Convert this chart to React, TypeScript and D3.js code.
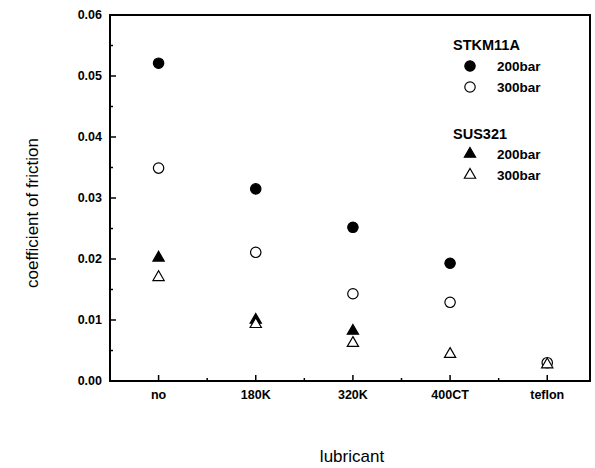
import React, { useEffect, useRef } from 'react';
import * as d3 from 'd3';

const lubricants = ['no', '180K', '320K', '400CT', 'teflon'];
const stkm200 = [0.0521, 0.0315, 0.0252, 0.0193, null];
const stkm300 = [0.0349, 0.0211, 0.0143, 0.0129, 0.0030];
const sus200 = [0.0202, 0.0100, 0.0082, null, null];
const sus300 = [0.0170, 0.0093, 0.0062, 0.0044, 0.0027];
const yTicks = [0, 0.01, 0.02, 0.03, 0.04, 0.05, 0.06];

const App = () => {
  const ref = useRef<SVGSVGElement | null>(null);

  useEffect(() => {
    if (!ref.current) return;
    const left = 110, right = 590, top = 15, bottom = 381;

    const svg = d3.select(ref.current);
    svg.selectAll('*').remove();

    const x = d3.scaleLinear().domain([0.5, 5.44]).range([left, right]);
    const y = d3.scaleLinear().domain([0, 0.06]).range([bottom, top]);

    const font = 'Liberation Sans, Arial, sans-serif';

    // frame
    svg.append('rect')
      .attr('x', left).attr('y', top)
      .attr('width', right - left).attr('height', bottom - top)
      .attr('fill', 'none').attr('stroke', '#000').attr('stroke-width', 2);

    // y ticks (inward)
    const yMinor = d3.range(0.005, 0.06, 0.01);
    svg.selectAll('line.ymaj').data(yTicks).enter().append('line')
      .attr('x1', left).attr('x2', left + 6)
      .attr('y1', d => y(d)).attr('y2', d => y(d))
      .attr('stroke', '#000').attr('stroke-width', 1.5);
    svg.selectAll('line.ymin').data(yMinor).enter().append('line')
      .attr('x1', left).attr('x2', left + 3)
      .attr('y1', d => y(d)).attr('y2', d => y(d))
      .attr('stroke', '#000').attr('stroke-width', 1.5);
    svg.selectAll('text.ylab').data(yTicks).enter().append('text')
      .attr('x', left - 8).attr('y', d => y(d))
      .attr('dy', '0.35em')
      .attr('text-anchor', 'end')
      .style('font-family', font).style('font-weight', 'bold').style('font-size', '12.5px')
      .text(d => d3.format('.2f')(d));

    // x ticks
    const xMajor = lubricants.map((_, i) => i + 1);
    const xMinor = d3.range(1.5, 5, 1);
    svg.selectAll('line.xmaj').data(xMajor).enter().append('line')
      .attr('x1', d => x(d)).attr('x2', d => x(d))
      .attr('y1', bottom).attr('y2', bottom - 6)
      .attr('stroke', '#000').attr('stroke-width', 1.5);
    svg.selectAll('line.xmin').data(xMinor).enter().append('line')
      .attr('x1', d => x(d)).attr('x2', d => x(d))
      .attr('y1', bottom).attr('y2', bottom - 3)
      .attr('stroke', '#000').attr('stroke-width', 1.5);
    svg.selectAll('text.xlab').data(lubricants).enter().append('text')
      .attr('x', (_, i) => x(i + 1)).attr('y', bottom + 18)
      .attr('text-anchor', 'middle')
      .style('font-family', font).style('font-weight', 'bold').style('font-size', '12.5px')
      .text(d => d);

    // axis titles
    svg.append('text')
      .attr('transform', `translate(38, ${(top + bottom) / 2 + 15}) rotate(-90)`)
      .attr('text-anchor', 'middle')
      .style('font-family', font).style('font-size', '17px')
      .text('coefficient of friction');
    svg.append('text')
      .attr('x', 352).attr('y', 462)
      .attr('text-anchor', 'middle')
      .style('font-family', font).style('font-size', '17px')
      .text('lubricant');

    const circle = d3.symbol().type(d3.symbolCircle).size(85);
    const tri = d3.symbol().type(d3.symbolTriangle).size(55);

    const series = [
      { values: stkm200, path: circle(), fill: '#000' },
      { values: stkm300, path: circle(), fill: '#fff' },
      { values: sus200, path: tri(), fill: '#000' },
      { values: sus300, path: tri(), fill: '#fff' },
    ];

    series.forEach(s => {
      svg.append('g').selectAll('path')
        .data(s.values.map((v, i) => ({ v, i })).filter(d => d.v != null))
        .enter().append('path')
        .attr('d', s.path)
        .attr('transform', d => `translate(${x(d.i + 1)}, ${y(d.v as number)})`)
        .attr('fill', s.fill)
        .attr('stroke', '#000')
        .attr('stroke-width', 1.2);
    });

    // legend
    const lg = svg.append('g');
    const legendRows = [
      { head: 'STKM11A', y: 45 },
      { label: '200bar', y: 66, path: circle(), fill: '#000' },
      { label: '300bar', y: 87, path: circle(), fill: '#fff' },
      { head: 'SUS321', y: 134 },
      { label: '200bar', y: 154, path: tri(), fill: '#000' },
      { label: '300bar', y: 175, path: tri(), fill: '#fff' },
    ];
    legendRows.forEach(r => {
      if (r.head) {
        lg.append('text')
          .attr('x', 453).attr('y', r.y).attr('dy', '0.35em')
          .style('font-family', font).style('font-weight', 'bold').style('font-size', '14.5px')
          .text(r.head);
      } else {
        lg.append('path')
          .attr('d', r.path as string)
          .attr('transform', `translate(470, ${r.y})`)
          .attr('fill', r.fill as string)
          .attr('stroke', '#000').attr('stroke-width', 1.2);
        lg.append('text')
          .attr('x', 497).attr('y', r.y).attr('dy', '0.35em')
          .style('font-family', font).style('font-weight', 'bold').style('font-size', '13.5px')
          .text(r.label as string);
      }
    });
  }, []);

  return (
    <svg ref={ref} width={595} height={468}
      style={{ position: 'absolute', left: 0, top: 0, background: '#fff' }} />
  );
};

export default App;
